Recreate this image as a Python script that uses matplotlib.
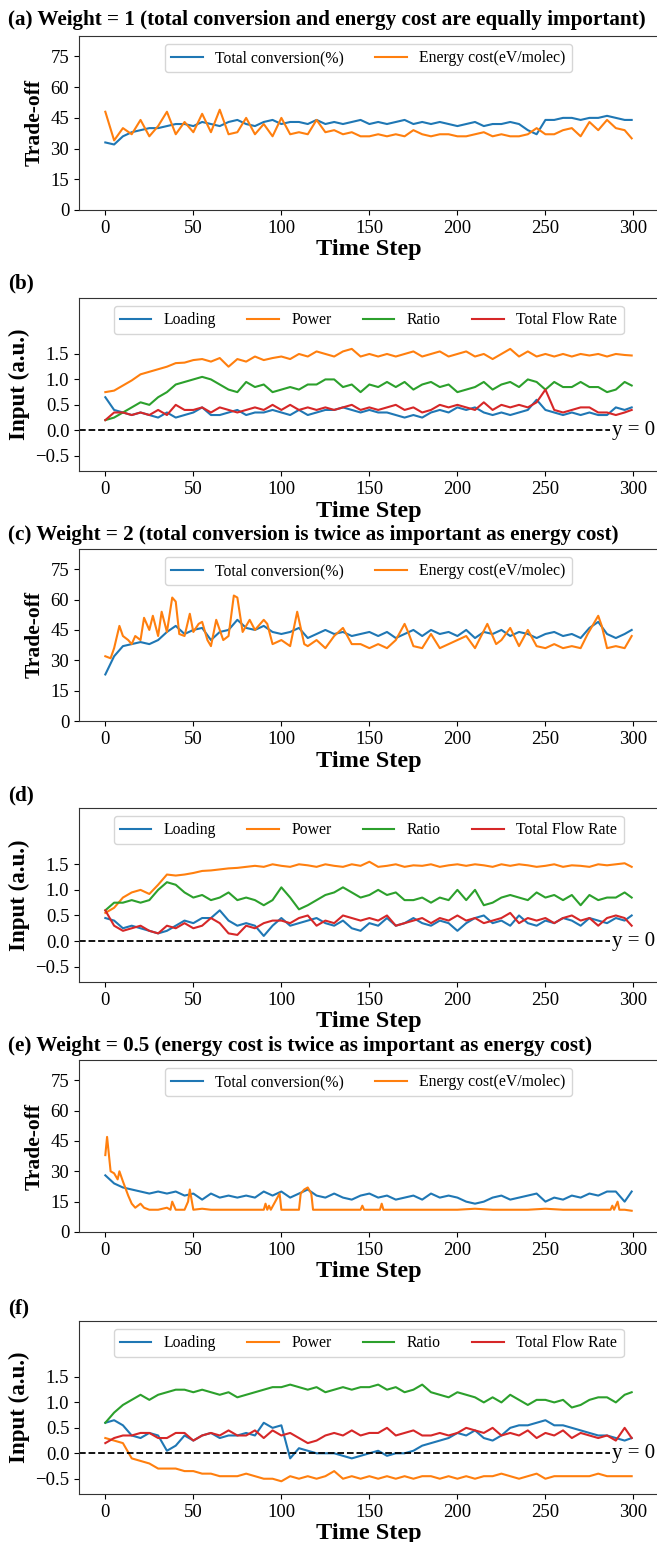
import matplotlib
matplotlib.use('Agg')
import matplotlib.pyplot as plt

plt.rcParams['font.family'] = ['Liberation Serif', 'DejaVu Serif']

# time grid (every 5 steps + last step)
t5 = list(range(0, 300, 5)) + [299]

# (a) weight = 1
conv_a = [33, 32, 36, 38, 39, 40, 40, 41, 42, 42,
          41, 43, 42, 41, 43, 44, 42, 41, 43, 44,
          42, 43, 43, 42, 44, 42, 43, 42, 43, 44,
          42, 43, 42, 43, 44, 42, 43, 42, 43, 42,
          41, 42, 43, 41, 42, 42, 43, 42, 39, 37,
          44, 44, 45, 45, 44, 45, 45, 46, 45, 44,
          44]
cost_a = [48, 34, 40, 37, 44, 36, 41, 48, 37, 43,
          38, 47, 38, 49, 37, 38, 45, 37, 42, 36,
          45, 37, 38, 37, 44, 38, 39, 37, 38, 36,
          36, 37, 36, 37, 36, 39, 37, 36, 37, 37,
          36, 36, 37, 38, 36, 37, 36, 36, 37, 40,
          37, 37, 39, 40, 36, 43, 39, 44, 40, 39,
          35]

# (b) inputs, weight = 1
load_b = [0.65, 0.40, 0.35, 0.30, 0.35, 0.30, 0.25, 0.35, 0.25, 0.30,
          0.35, 0.45, 0.30, 0.30, 0.35, 0.40, 0.30, 0.35, 0.35, 0.40,
          0.35, 0.30, 0.40, 0.30, 0.35, 0.40, 0.40, 0.45, 0.40, 0.35,
          0.40, 0.35, 0.35, 0.30, 0.25, 0.30, 0.25, 0.35, 0.40, 0.35,
          0.45, 0.40, 0.45, 0.35, 0.30, 0.35, 0.30, 0.35, 0.40, 0.60,
          0.40, 0.35, 0.30, 0.35, 0.30, 0.35, 0.30, 0.30, 0.45, 0.40,
          0.45]
power_b = [0.75, 0.78, 0.88, 0.98, 1.10, 1.15, 1.20, 1.25, 1.32, 1.33,
           1.38, 1.40, 1.35, 1.42, 1.25, 1.40, 1.35, 1.45, 1.38, 1.42,
           1.45, 1.40, 1.50, 1.45, 1.55, 1.50, 1.45, 1.55, 1.60, 1.45,
           1.50, 1.45, 1.50, 1.45, 1.50, 1.55, 1.45, 1.50, 1.55, 1.45,
           1.50, 1.55, 1.45, 1.50, 1.40, 1.50, 1.60, 1.45, 1.55, 1.45,
           1.50, 1.45, 1.50, 1.45, 1.50, 1.47, 1.50, 1.45, 1.50, 1.48,
           1.47]
ratio_b = [0.20, 0.25, 0.35, 0.45, 0.55, 0.50, 0.65, 0.75, 0.90, 0.95,
           1.00, 1.05, 1.00, 0.90, 0.80, 0.75, 0.95, 0.85, 0.90, 0.75,
           0.80, 0.85, 0.80, 0.90, 0.90, 1.00, 1.00, 0.85, 0.90, 0.75,
           0.90, 0.85, 0.95, 0.85, 0.95, 0.80, 0.90, 0.95, 0.85, 0.90,
           0.75, 0.80, 0.85, 0.95, 0.80, 0.90, 0.95, 0.85, 1.00, 0.95,
           0.80, 0.95, 0.85, 0.85, 0.95, 0.85, 0.85, 0.75, 0.80, 0.95,
           0.88]
flow_b = [0.20, 0.35, 0.35, 0.30, 0.35, 0.30, 0.40, 0.30, 0.50, 0.40,
          0.40, 0.45, 0.35, 0.45, 0.40, 0.35, 0.40, 0.45, 0.40, 0.50,
          0.40, 0.50, 0.40, 0.45, 0.40, 0.45, 0.40, 0.45, 0.50, 0.40,
          0.45, 0.40, 0.45, 0.50, 0.40, 0.45, 0.35, 0.40, 0.50, 0.45,
          0.50, 0.45, 0.40, 0.55, 0.40, 0.50, 0.45, 0.50, 0.45, 0.55,
          0.80, 0.40, 0.35, 0.40, 0.45, 0.45, 0.35, 0.35, 0.30, 0.35,
          0.40]

# (c) weight = 2
conv_c = [23, 32, 37, 38, 39, 38, 40, 44, 47, 43,
          45, 46, 40, 44, 45, 50, 46, 45, 47, 44,
          43, 44, 46, 41, 43, 45, 43, 44, 42, 43,
          44, 42, 44, 41, 43, 45, 42, 45, 43, 44,
          42, 45, 41, 44, 43, 45, 42, 44, 43, 41,
          43, 44, 42, 43, 41, 46, 49, 43, 41, 43,
          45]
t_cost_c = [0, 3, 5, 8, 10, 13, 15, 17, 20, 22, 25, 27, 30, 32, 35, 38, 40, 42,
            45, 48, 50, 53, 55, 58, 60, 63, 67, 70, 73, 75, 78, 82, 85, 90, 92,
            95, 100, 105, 109, 113, 115, 120, 125, 130, 135, 140, 145, 150, 155,
            160, 165, 170, 172, 175, 180, 185, 190, 195, 200, 205, 210, 217, 222,
            225, 230, 235, 240, 245, 250, 255, 260, 265, 270, 274, 280, 282, 285,
            290, 295, 299]
cost_c = [32, 31, 36, 47, 42, 40, 38, 42, 40, 51, 45, 52, 42, 54, 44, 61, 59, 43,
          42, 53, 44, 48, 49, 40, 37, 50, 40, 42, 62, 61, 44, 50, 45, 50, 48,
          38, 40, 37, 54, 38, 37, 40, 36, 42, 46, 38, 38, 36, 38,
          36, 40, 48, 44, 37, 36, 43, 36, 38, 40, 42, 36, 48, 38,
          40, 46, 37, 45, 37, 36, 38, 36, 37, 36, 43, 52, 47, 36,
          37, 36, 42]

# (d) inputs, weight = 2
load_d = [0.45, 0.40, 0.25, 0.30, 0.25, 0.20, 0.15, 0.20, 0.30, 0.40,
          0.35, 0.45, 0.45, 0.60, 0.40, 0.30, 0.35, 0.30, 0.10, 0.30,
          0.45, 0.30, 0.35, 0.40, 0.45, 0.35, 0.30, 0.40, 0.25, 0.20,
          0.35, 0.30, 0.45, 0.30, 0.35, 0.45, 0.35, 0.30, 0.40, 0.35,
          0.20, 0.35, 0.45, 0.50, 0.35, 0.40, 0.30, 0.50, 0.35, 0.30,
          0.40, 0.35, 0.45, 0.40, 0.30, 0.45, 0.40, 0.35, 0.45, 0.40,
          0.50]
power_d = [0.55, 0.65, 0.85, 0.95, 1.00, 0.92, 1.10, 1.30, 1.28, 1.30,
           1.33, 1.37, 1.38, 1.40, 1.42, 1.43, 1.45, 1.47, 1.45, 1.50,
           1.47, 1.45, 1.50, 1.48, 1.45, 1.50, 1.47, 1.45, 1.50, 1.47,
           1.55, 1.45, 1.47, 1.50, 1.45, 1.48, 1.47, 1.50, 1.45, 1.48,
           1.50, 1.47, 1.50, 1.48, 1.45, 1.50, 1.47, 1.50, 1.48, 1.45,
           1.47, 1.50, 1.45, 1.48, 1.47, 1.45, 1.50, 1.48, 1.50, 1.52,
           1.45]
ratio_d = [0.60, 0.75, 0.75, 0.80, 0.75, 0.80, 1.00, 1.15, 1.10, 0.95,
           0.85, 0.90, 0.80, 0.85, 0.95, 0.80, 0.85, 0.80, 0.70, 0.80,
           1.05, 0.85, 0.62, 0.70, 0.80, 0.90, 0.95, 1.05, 0.95, 0.85,
           0.90, 1.00, 0.90, 0.95, 0.80, 0.80, 0.85, 0.75, 0.85, 0.80,
           1.00, 0.80, 1.00, 0.70, 0.75, 0.85, 0.90, 0.85, 0.80, 0.95,
           0.85, 0.90, 0.80, 0.90, 0.70, 0.90, 0.80, 0.85, 0.85, 0.95,
           0.85]
flow_d = [0.60, 0.30, 0.20, 0.25, 0.30, 0.20, 0.15, 0.30, 0.25, 0.35,
          0.25, 0.30, 0.45, 0.35, 0.15, 0.12, 0.30, 0.25, 0.35, 0.40,
          0.40, 0.35, 0.45, 0.50, 0.30, 0.40, 0.35, 0.50, 0.45, 0.40,
          0.45, 0.40, 0.50, 0.30, 0.35, 0.40, 0.45, 0.35, 0.45, 0.40,
          0.50, 0.40, 0.45, 0.35, 0.40, 0.45, 0.55, 0.35, 0.45, 0.40,
          0.45, 0.35, 0.45, 0.50, 0.40, 0.45, 0.30, 0.45, 0.50, 0.45,
          0.30]

# (e) weight = 0.5
conv_e = [28, 24, 22, 21, 20, 19, 20, 19, 20, 18,
          19, 16, 19, 17, 18, 17, 18, 17, 20, 18,
          20, 17, 19, 21, 18, 17, 19, 17, 16, 18,
          19, 17, 18, 16, 17, 18, 16, 19, 17, 18,
          17, 15, 14, 15, 17, 18, 16, 17, 18, 19,
          15, 17, 16, 18, 17, 19, 18, 20, 20, 15,
          20]
t_cost_e = [0, 1, 3, 5, 7, 8, 10, 13, 15, 17, 20, 22, 25, 30, 35, 37, 38, 40, 45,
            47, 48, 50, 55, 60, 70, 80, 90, 91, 92, 93, 94, 99, 100, 105, 110, 111,
            113, 115, 117, 118, 120, 130, 140, 145, 146, 147, 150, 156, 157, 158,
            160, 170, 180, 190, 200, 210, 220, 230, 240, 250, 260, 270, 280, 287,
            288, 289, 291, 292, 295, 299]
cost_e = [38, 47, 30, 29, 26, 30, 25, 18, 14, 12, 14, 12, 11, 11, 12, 11, 15, 11, 11,
          15, 21, 11, 11.5, 11, 11, 11, 11, 14, 11, 13, 11, 19, 11, 11, 11, 19,
          21, 22, 19, 11, 11, 11, 11, 11, 13, 11, 11, 11, 14, 11,
          11, 11, 11, 11, 11, 11.5, 11, 11, 11, 11.5, 11, 11, 11, 11,
          13, 11, 15, 11, 11, 10.5]

# (f) inputs, weight = 0.5
load_f = [0.60, 0.65, 0.55, 0.35, 0.30, 0.40, 0.35, 0.05, 0.15, 0.35,
          0.25, 0.35, 0.40, 0.30, 0.35, 0.35, 0.40, 0.35, 0.60, 0.50,
          0.55, -0.10, 0.10, 0.05, 0.00, 0.00, 0.00, -0.05, -0.10, -0.05,
          0.00, 0.05, -0.05, 0.00, 0.00, 0.05, 0.15, 0.20, 0.25, 0.30,
          0.40, 0.35, 0.45, 0.30, 0.25, 0.35, 0.50, 0.55, 0.55, 0.60,
          0.65, 0.55, 0.55, 0.50, 0.45, 0.40, 0.35, 0.35, 0.30, 0.25,
          0.30]
power_f = [0.30, 0.25, 0.20, -0.10, -0.15, -0.20, -0.30, -0.30, -0.30, -0.35,
           -0.35, -0.40, -0.40, -0.45, -0.45, -0.45, -0.40, -0.45, -0.50, -0.50,
           -0.55, -0.45, -0.50, -0.45, -0.50, -0.45, -0.35, -0.50, -0.45, -0.50,
           -0.45, -0.50, -0.45, -0.50, -0.45, -0.50, -0.45, -0.45, -0.50, -0.45,
           -0.50, -0.45, -0.50, -0.45, -0.45, -0.40, -0.45, -0.50, -0.45, -0.40,
           -0.50, -0.45, -0.45, -0.45, -0.45, -0.45, -0.40, -0.45, -0.45, -0.45,
           -0.45]
ratio_f = [0.60, 0.80, 0.95, 1.05, 1.15, 1.05, 1.15, 1.20, 1.25, 1.25,
           1.20, 1.25, 1.20, 1.15, 1.20, 1.10, 1.15, 1.20, 1.25, 1.30,
           1.30, 1.35, 1.30, 1.25, 1.30, 1.20, 1.25, 1.30, 1.25, 1.30,
           1.30, 1.35, 1.25, 1.30, 1.20, 1.25, 1.35, 1.20, 1.15, 1.10,
           1.20, 1.15, 1.10, 1.00, 1.10, 1.00, 1.15, 1.05, 0.95, 1.05,
           1.05, 1.00, 1.05, 0.90, 0.95, 1.05, 1.10, 1.10, 1.00, 1.15,
           1.20]
flow_f = [0.20, 0.30, 0.35, 0.35, 0.40, 0.40, 0.30, 0.30, 0.40, 0.40,
          0.25, 0.35, 0.40, 0.35, 0.45, 0.35, 0.35, 0.45, 0.30, 0.45,
          0.35, 0.40, 0.30, 0.20, 0.25, 0.35, 0.40, 0.35, 0.45, 0.35,
          0.40, 0.40, 0.50, 0.35, 0.40, 0.45, 0.35, 0.35, 0.40, 0.35,
          0.40, 0.50, 0.45, 0.40, 0.50, 0.35, 0.40, 0.35, 0.45, 0.30,
          0.40, 0.35, 0.45, 0.30, 0.40, 0.35, 0.30, 0.35, 0.25, 0.50,
          0.30]

W, H = 657, 1542
fig = plt.figure(figsize=(W / 100, H / 100), dpi=100)


def make_axes(top, bottom):
    ax = fig.add_axes([79 / W, 1 - bottom / H, 579 / W, (bottom - top) / H])
    for s in ax.spines.values():
        s.set_color('#333333')
    ax.tick_params(labelsize=13.5)
    ax.set_xticks([0, 50, 100, 150, 200, 250, 300])
    ax.set_xlabel('Time Step', fontsize=17.5, fontweight='bold', labelpad=2)
    return ax


def tradeoff_panel(top, bottom, conv, t_cost, cost):
    ax = make_axes(top, bottom)
    ax.plot(t5, conv, color='tab:blue', lw=1.5, label='Total conversion(%)')
    ax.plot(t_cost, cost, color='tab:orange', lw=1.5, label='Energy cost(eV/molec)')
    ax.set_ylim(0, 85)
    ax.set_yticks([0, 15, 30, 45, 60, 75])
    ax.set_ylabel('Trade-off', fontsize=15.5, fontweight='bold')
    ax.legend(loc='upper center', ncol=2, fontsize=11.3)
    return ax


def input_panel(top, bottom, load, power, ratio, flow):
    ax = make_axes(top, bottom)
    ax.plot(t5, load, color='tab:blue', lw=1.5, label='Loading')
    ax.plot(t5, power, color='tab:orange', lw=1.5, label='Power')
    ax.plot(t5, ratio, color='tab:green', lw=1.5, label='Ratio')
    ax.plot(t5, flow, color='tab:red', lw=1.5, label='Total Flow Rate')
    ax.axhline(0, color='black', linestyle='--', lw=1.3)
    ax.text(300, 0, 'y = 0', ha='center', va='center', fontsize=15,
            bbox=dict(facecolor='white', edgecolor='none', pad=1.5))
    ax.set_ylim(-0.8, 2.6)
    ax.set_yticks([-0.5, 0.0, 0.5, 1.0, 1.5])
    ax.set_ylabel('Input (a.u.)', fontsize=16.5, fontweight='bold')
    ax.legend(loc='upper center', ncol=4, fontsize=11.3)
    return ax


def panel_title(y, s):
    fig.text(8 / W, 1 - y / H, s, ha='left', va='center', fontsize=15.2, fontweight='bold')


tradeoff_panel(36, 210, conv_a, t5, cost_a)
panel_title(20, '(a) Weight = 1 (total conversion and energy cost are equally important)')

input_panel(298, 471, load_b, power_b, ratio_b, flow_b)
panel_title(283, '(b)')

tradeoff_panel(549, 721, conv_c, t_cost_c, cost_c)
panel_title(535, '(c) Weight = 2 (total conversion is twice as important as energy cost)')

input_panel(808, 982, load_d, power_d, ratio_d, flow_d)
panel_title(795, '(d)')

tradeoff_panel(1060, 1232, conv_e, t_cost_e, cost_e)
panel_title(1046, '(e) Weight = 0.5 (energy cost is twice as important as energy cost)')

input_panel(1321, 1494, load_f, power_f, ratio_f, flow_f)
panel_title(1308, '(f)')

fig.savefig('out.png', dpi=100)
